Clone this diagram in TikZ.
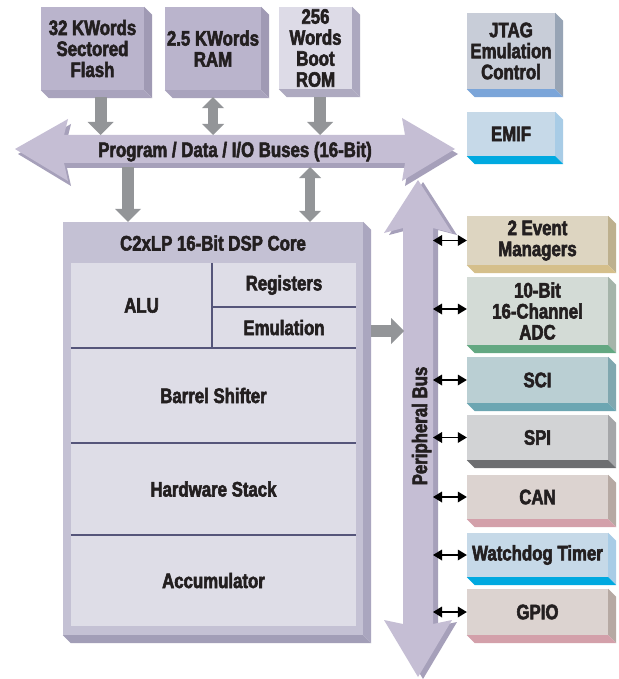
\documentclass[tikz,border=0pt]{standalone}
\usepackage{fontspec}
\setmainfont{Liberation Sans}[FakeStretch=0.80, BoldFeatures={FakeBold=2.6}]
\usetikzlibrary{arrows.meta}
\definecolor{txt}{HTML}{231F20}
\definecolor{flashf}{HTML}{BAB4CC}\definecolor{flashs}{HTML}{A09AB4}\definecolor{flashb}{HTML}{A9A3BD}
\definecolor{romf}{HTML}{DDDBE7}\definecolor{roms}{HTML}{ACA8BF}\definecolor{romb}{HTML}{AEAAC0}
\definecolor{jtagf}{HTML}{C8CDD8}\definecolor{jtags}{HTML}{97A4B5}\definecolor{jtagb}{HTML}{7BA5D9}
\definecolor{emiff}{HTML}{C6D9E8}\definecolor{emifs}{HTML}{A8CCE6}\definecolor{emifb}{HTML}{00A9E0}
\definecolor{emf}{HTML}{DDD5C1}\definecolor{ems}{HTML}{BDB08E}\definecolor{emb}{HTML}{D5BF8B}
\definecolor{adcf}{HTML}{D3DBD6}\definecolor{adcs}{HTML}{A5B4AA}\definecolor{adcb}{HTML}{63A882}
\definecolor{scif}{HTML}{BACFD3}\definecolor{scis}{HTML}{80A7AF}\definecolor{scib}{HTML}{6CA6B2}
\definecolor{spif}{HTML}{D2D3D5}\definecolor{spis}{HTML}{A5A6A9}\definecolor{spib}{HTML}{6D6E71}
\definecolor{canf}{HTML}{DCD3D0}\definecolor{cans}{HTML}{B6A9A3}\definecolor{canb}{HTML}{D3A0AA}
\definecolor{coref}{HTML}{C4C1D4}\definecolor{cores}{HTML}{AAA6BF}\definecolor{coreb}{HTML}{A29EB7}
\definecolor{corein}{HTML}{DEDDE7}
\definecolor{buslight}{HTML}{C5BED4}\definecolor{busdark}{HTML}{A6A0BA}
\definecolor{arrgray}{HTML}{939598}
\definecolor{divline}{HTML}{55557A}
\newcommand\xbox[7]{%
  \node[boxface, fill=#6f, minimum width={(#4-#2)*1pt}, minimum height={(#5-#3)*1pt}] (#1) at ({(#2+#4)/2},{(#3+#5)/2}) {#7};
  \fill[#6s] (#1.north east) -- ++(8,8) -- ([shift={(8,8)}]#1.south east) -- (#1.south east) -- cycle;
  \fill[#6b] (#1.south west) -- ++(8,8) -- ([shift={(8,8)}]#1.south east) -- (#1.south east) -- cycle;
}
\begin{document}
\begin{tikzpicture}[x=1pt,y=-1pt,
  lbl/.style={font=\fontsize{21}{21}\selectfont\bfseries, text=txt, align=center, inner sep=0pt},
  boxface/.style={lbl, draw=none},
  panel/.style={fill=corein, draw=none, inner sep=0pt, lbl},
  divider/.style={draw=divline, line width=1.5pt},
  garr/.style={draw=arrgray, line width=12pt, -{Triangle[width=26pt,length=13pt,line width=0pt]}},
  gdbl/.style={draw=arrgray, line width=10pt, {Triangle[width=22pt,length=11pt,line width=0pt]}-{Triangle[width=22pt,length=11pt,line width=0pt]}},
  barr/.style={draw=black, line width=1.8pt, {Triangle[width=11pt,length=9pt,line width=0pt]}-{Triangle[width=11pt,length=9pt,line width=0pt]}}
]
\useasboundingbox (0,0) rectangle (618,679);
\fill[white] (0,0) rectangle (618,679);

% horizontal bus
\fill[busdark, shift={(3,5)}] (15,149) -- (68,119) -- (64,135) -- (405,135) -- (402,118) -- (455,149) -- (402,181) -- (405,163) -- (64,163) -- (68,181) -- cycle;
\fill[buslight] (15,149) -- (68,119) -- (64,135) -- (405,135) -- (402,118) -- (455,149) -- (402,181) -- (405,163) -- (64,163) -- (68,181) -- cycle;
\node[lbl, anchor=base] (buslbl) at (235,157) {Program / Data / I/O Buses (16-Bit)};

% peripheral bus
\fill[busdark, shift={(5,2)}] (418,180) -- (452,233) -- (433,228) -- (433,624) -- (452,620) -- (418,677) -- (384,620) -- (403,624) -- (403,228) -- (384,233) -- cycle;
\fill[buslight] (418,180) -- (452,233) -- (433,228) -- (433,624) -- (452,620) -- (418,677) -- (384,620) -- (403,624) -- (403,228) -- (384,233) -- cycle;
\node[lbl, anchor=base, rotate=90] (pbuslbl) at (427,426) {Peripheral Bus};

% memory boxes
\xbox{flash}{41}{7}{144}{90}{flash}{32 KWords\\Sectored\\Flash}
\xbox{ram}{165}{7}{261}{90}{flash}{2.5 KWords\\RAM}
\xbox{rom}{279}{7}{352}{89}{rom}{256\\Words\\Boot\\ROM}
\xbox{jtag}{467}{13}{555}{89}{jtag}{JTAG\\Emulation\\Control}
\xbox{emif}{467}{112}{555}{156}{emif}{EMIF}

% core
\xbox{core}{63}{222}{363}{635}{core}{}
\node[lbl] (coretitle) at (213,243) {C2xLP 16-Bit DSP Core};
\node[panel, minimum width=141pt, minimum height=85pt] (alu) at (141.5,305.5) {ALU};
\node[panel, minimum width=144pt, minimum height=44pt] (reg) at (284,285) {Registers};
\node[panel, minimum width=144pt, minimum height=41pt] (emu) at (284,327.5) {Emulation};
\node[panel, minimum width=285pt, minimum height=95pt] (barrel) at (213.5,395.5) {Barrel Shifter};
\node[panel, minimum width=285pt, minimum height=92pt] (stack) at (213.5,489) {Hardware Stack};
\node[panel, minimum width=285pt, minimum height=91pt] (acc) at (213.5,580.5) {Accumulator};
\draw[divider] (alu.north east) -- (alu.south east);
\draw[divider] (reg.south west) -- (reg.south east);
\draw[divider] (alu.south west) -- (emu.south east);
\draw[divider] (barrel.south west) -- (barrel.south east);
\draw[divider] (stack.south west) -- (stack.south east);

% peripherals
\xbox{em}{467}{216}{608}{265}{em}{2 Event\\Managers}
\xbox{adc}{467}{277}{608}{345}{adc}{10-Bit\\16-Channel\\ADC}
\xbox{sci}{467}{357}{608}{403}{sci}{SCI}
\xbox{spi}{467}{415}{608}{460}{spi}{SPI}
\xbox{can}{467}{475}{608}{519}{can}{CAN}
\xbox{wd}{467}{533}{608}{577}{emif}{Watchdog Timer}
\xbox{gpio}{467}{589}{608}{635}{can}{GPIO}

% bus coordinates
\coordinate (busN1) at (100.5,135);
\coordinate (busN2) at (213,135);
\coordinate (busN3) at (320,135);
\coordinate (busS1) at (128,167);
\coordinate (busS2) at (310,167);
\coordinate (pbusW) at (404,331);
\coordinate (pbusE) at (433,331);

% grey connectors
\draw[garr] ([shift={(8,7)}]flash.south) -- (busN1);
\draw[gdbl] ([shift={(0,7)}]ram.south) -- (busN2);
\draw[garr] ([shift={(4.5,8)}]rom.south) -- (busN3);
\draw[garr] (busS1) -- (busS1 |- core.north);
\draw[gdbl] (busS2) -- (busS2 |- core.north);
\draw[garr] ([xshift=8pt]pbusW -| core.east) -- (pbusW);

% black connectors
\draw[barr] (pbusE |- em.west) -- (em.west);
\draw[barr] ([yshift=2pt]pbusE |- adc.west) -- ([yshift=2pt]adc.west);
\draw[barr] (pbusE |- sci.west) -- (sci.west);
\draw[barr] (pbusE |- spi.west) -- (spi.west);
\draw[barr] (pbusE |- can.west) -- (can.west);
\draw[barr] (pbusE |- wd.west) -- (wd.west);
\draw[barr] (pbusE |- gpio.west) -- (gpio.west);
\end{tikzpicture}
\end{document}
